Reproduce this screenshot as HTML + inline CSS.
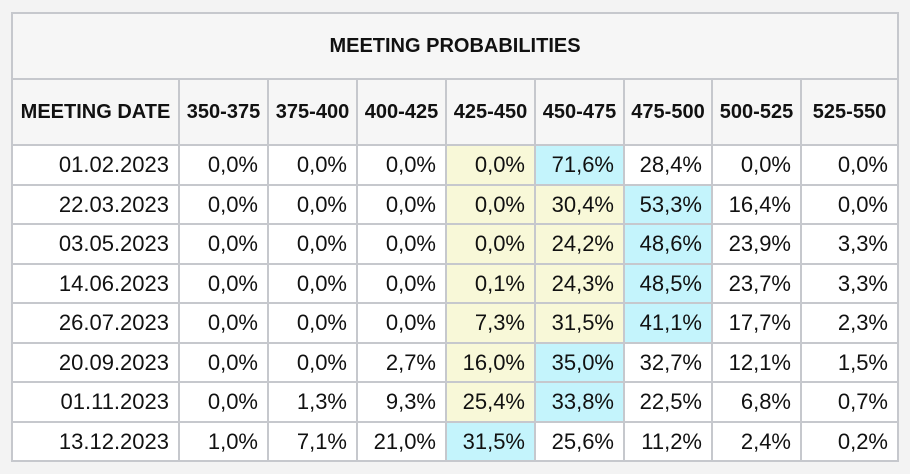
<!DOCTYPE html>
<html><head><meta charset="utf-8"><style>
body{margin:0;width:910px;height:474px;background:#f3f3f3;font-family:"Liberation Sans",Arial,sans-serif;overflow:hidden}
#t{position:absolute;left:11px;top:12px;width:886px;border-collapse:collapse;table-layout:fixed;background:#fff}
#t td,#t th{border:2px solid #c6c8cd;padding:0;box-sizing:border-box}
#t th{background:#f6f6f6;font-weight:bold;font-size:20px;color:#111;text-align:center}
#t td{font-size:22px;color:#111;text-align:right;padding-right:9px}
.y{background:#f8f8d8}.b{background:#c4f4fc}
</style></head><body>
<table id="t">
<colgroup><col style="width:167px"><col style="width:89px"><col style="width:89px"><col style="width:89px"><col style="width:89px"><col style="width:89px"><col style="width:88px"><col style="width:89px"><col style="width:97px"></colgroup>
<tr style="height:66px"><th colspan="9">MEETING PROBABILITIES</th></tr>
<tr style="height:66px" id="hdr"></tr>
<tbody id="body"></tbody>
</table>
<script>
const headers=["MEETING DATE","350-375","375-400","400-425","425-450","450-475","475-500","500-525","525-550"];
const dates=["01.02.2023","22.03.2023","03.05.2023","14.06.2023","26.07.2023","20.09.2023","01.11.2023","13.12.2023"];
const values=[
["0,0%","0,0%","0,0%","0,0%","71,6%","28,4%","0,0%","0,0%"],
["0,0%","0,0%","0,0%","0,0%","30,4%","53,3%","16,4%","0,0%"],
["0,0%","0,0%","0,0%","0,0%","24,2%","48,6%","23,9%","3,3%"],
["0,0%","0,0%","0,0%","0,1%","24,3%","48,5%","23,7%","3,3%"],
["0,0%","0,0%","0,0%","7,3%","31,5%","41,1%","17,7%","2,3%"],
["0,0%","0,0%","2,7%","16,0%","35,0%","32,7%","12,1%","1,5%"],
["0,0%","1,3%","9,3%","25,4%","33,8%","22,5%","6,8%","0,7%"],
["1,0%","7,1%","21,0%","31,5%","25,6%","11,2%","2,4%","0,2%"]];
const hilite=[
"...yb...","...yyb..","...yyb..","...yyb..","...yyb..","...yb...","...yb...","...b...."];
const hdr=document.getElementById('hdr');
headers.forEach(h=>{const th=document.createElement('th');th.textContent=h;


hdr.appendChild(th);});
const body=document.getElementById('body');
dates.forEach((d,i)=>{const tr=document.createElement('tr');tr.style.height=(i%2?39:40)+'px';


const td=document.createElement('td');td.textContent=d;


tr.appendChild(td);
values[i].forEach((v,j)=>{const c=document.createElement('td');c.textContent=v;
const f=hilite[i][j];if(f==='y')c.className='y';if(f==='b')c.className='b';


tr.appendChild(c);});
body.appendChild(tr);});
</script>
</body></html>
